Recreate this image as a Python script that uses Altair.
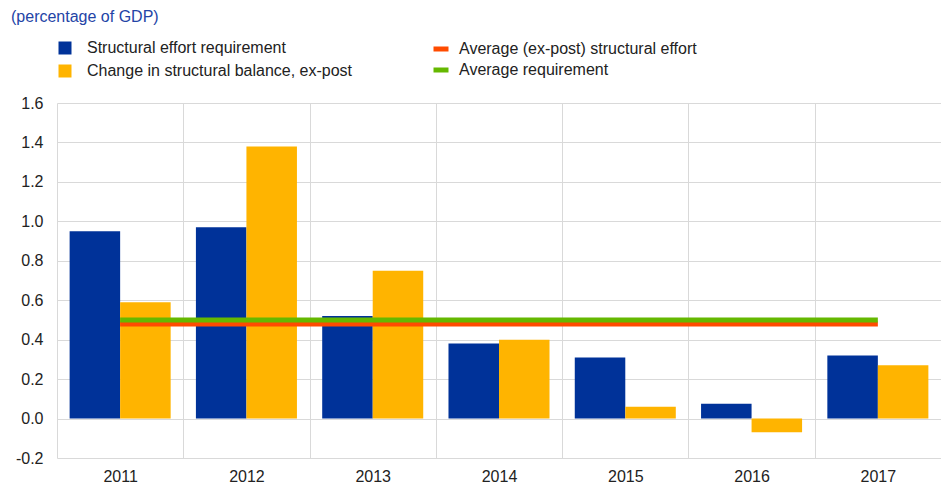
import altair as alt
import pandas as pd

years = ["2011", "2012", "2013", "2014", "2015", "2016", "2017"]
requirement = [0.95, 0.97, 0.52, 0.38, 0.31, 0.075, 0.32]
change_sb = [0.59, 1.38, 0.75, 0.40, 0.06, -0.07, 0.27]
bar_series = ["Structural effort requirement", "Change in structural balance, ex-post"]
bar_colors = ["#003299", "#FFB400"]

line_series = ["Average (ex-post) structural effort", "Average requirement"]
line_colors = ["#FF4B00", "#65B800"]
avg_effort = 0.48
avg_requirement = 0.50

y_ticks = [-0.2, 0.0, 0.2, 0.4, 0.6, 0.8, 1.0, 1.2, 1.4, 1.6]

FONT = "Liberation Sans"
TXT = "#222222"

bars_df = pd.DataFrame(
    [{"year": y, "series": bar_series[0], "value": v} for y, v in zip(years, requirement)]
    + [{"year": y, "series": bar_series[1], "value": v} for y, v in zip(years, change_sb)]
)
line_df = pd.DataFrame(
    [{"year": y, "series": line_series[0], "value": avg_effort} for y in (years[0], years[-1])]
    + [{"year": y, "series": line_series[1], "value": avg_requirement} for y in (years[0], years[-1])]
)

x_axis = alt.Axis(
    grid=True, tickBand="extent", ticks=False, domain=False,
    labelAngle=0, labelFontSize=16, labelFont=FONT, labelColor=TXT,
    labelPadding=10, gridColor="#D9D9D9", labelOverlap=False,
)
y_axis = alt.Axis(
    values=y_ticks, grid=True, ticks=False, domain=False,
    labelExpr="replace(format(datum.value, '.1f'), '\u2212', '-')",
    labelFontSize=16, labelFont=FONT, labelColor=TXT,
    labelPadding=14, gridColor="#D9D9D9", labelOverlap=False, labelFlush=False,
)
x_scale = alt.Scale(paddingInner=0, paddingOuter=0)
y_scale = alt.Scale(domain=[-0.2, 1.6], nice=False, zero=False)

bars = alt.Chart(bars_df).mark_bar().encode(
    x=alt.X("year:N", sort=years, title=None, scale=x_scale, axis=x_axis),
    y=alt.Y("value:Q", title=None, scale=y_scale, axis=y_axis),
    xOffset=alt.XOffset("series:N", sort=bar_series,
                        scale=alt.Scale(domain=bar_series, paddingOuter=0.25, paddingInner=0)),
    fill=alt.Fill(
        "series:N",
        scale=alt.Scale(domain=bar_series, range=bar_colors),
        legend=alt.Legend(
            title=None, orient="none", legendX=0, legendY=-63,
            symbolType="square", symbolSize=169, symbolStrokeWidth=0,
            labelFontSize=16, labelFont=FONT, labelColor=TXT,
            labelOffset=14, rowPadding=7, labelLimit=400,
        ),
    ),
)

lines = alt.Chart(line_df).mark_line(strokeWidth=5, strokeCap="butt").encode(
    x=alt.X("year:N", sort=years, title=None, scale=x_scale, axis=x_axis),
    y=alt.Y("value:Q", title=None, scale=y_scale, axis=y_axis),
    detail="series:N",
    stroke=alt.Stroke(
        "series:N",
        scale=alt.Scale(domain=line_series, range=line_colors),
        legend=alt.Legend(
            title=None, orient="none", legendX=374, legendY=-64,
            symbolType="stroke", symbolSize=225, symbolStrokeWidth=5,
            labelFontSize=16, labelFont=FONT, labelColor=TXT,
            labelOffset=8, rowPadding=1, labelLimit=400,
        ),
    ),
)

chart = alt.layer(bars, lines).resolve_scale(fill="independent", stroke="independent").properties(
    width=884,
    height=355,
    autosize=alt.AutoSizeParams(type="none"),
    padding={"left": 49, "top": 95, "right": 0, "bottom": 28},
    title=alt.TitleParams(
        "(percentage of GDP)", anchor="start", frame="group", orient="top",
        dx=-46, offset=14, fontSize=16, font=FONT, fontWeight="normal", color="#2344A6",
    ),
).configure_view(stroke=None).configure_axisY(labelOverlap=False)

chart.save("out.html", embed_options={"renderer": "svg", "actions": False})
